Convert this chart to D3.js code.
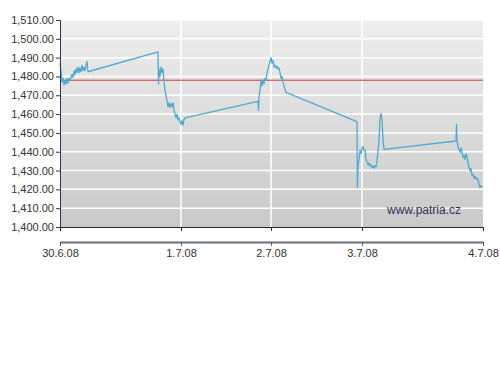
<!DOCTYPE html>
<html>
<head>
<meta charset="utf-8">
<script src="https://cdn.jsdelivr.net/npm/d3@7/dist/d3.min.js"></script>
<style>
  body { margin: 0; background: #ffffff; }
  text { font-family: "Liberation Sans", Arial, sans-serif; }
</style>
</head>
<body>
<script>
// day labels on the x axis, position in day units
var dayLabels = ['30.6.08', '1.7.08', '2.7.08', '3.7.08', '4.7.08']
var dayTicks = [0, 1, 2, 3, 4]

// y axis ticks
var yTicks = [1400, 1410, 1420, 1430, 1440, 1450, 1460, 1470, 1480, 1490, 1500, 1510]

// reference level (red line)
var refLevel = 1478

// intraday prices, time in day units
var times = [
  0.000, 0.008, 0.017, 0.025, 0.033, 0.041, 0.050, 0.058, 0.066, 0.074,
  0.083, 0.099, 0.107, 0.116, 0.124, 0.132, 0.140, 0.149, 0.157, 0.165,
  0.174, 0.182, 0.190, 0.198, 0.207, 0.215, 0.223, 0.231,
  0.810, 0.814, 0.818, 0.826, 0.835, 0.843, 0.851, 0.860, 0.868, 0.876,
  0.884, 0.893, 0.901, 0.909, 0.917, 0.926, 0.934, 0.942, 0.950, 0.959,
  0.967, 0.975, 0.983, 0.992, 1.000, 1.011, 1.022, 1.033, 1.044,
  1.856, 1.861, 1.867, 1.878, 1.889, 1.900, 1.911, 1.922, 1.933, 1.944,
  1.956, 1.967, 1.978, 1.989, 2.000, 2.011, 2.022, 2.033, 2.044, 2.055,
  2.066, 2.077, 2.088, 2.099, 2.110, 2.121, 2.132, 2.143, 2.154, 2.165,
  2.945, 2.949, 2.956, 2.967, 2.978, 2.989, 3.000, 3.008, 3.017, 3.025,
  3.033, 3.041, 3.050, 3.058, 3.066, 3.074, 3.083, 3.091, 3.099, 3.107,
  3.116, 3.124, 3.132, 3.140, 3.149, 3.157, 3.165, 3.174, 3.182,
  3.777, 3.781, 3.785, 3.793, 3.802, 3.810, 3.818, 3.826, 3.835, 3.843,
  3.851, 3.860, 3.868, 3.876, 3.884, 3.893, 3.901, 3.909, 3.917, 3.926,
  3.934, 3.942, 3.950, 3.959, 3.967, 3.975, 3.983, 3.992
]
var prices = [
  1487, 1483, 1477, 1479, 1475.5, 1478, 1476, 1479, 1476.5, 1479,
  1478, 1481, 1479.5, 1483, 1481, 1484, 1482, 1485, 1482, 1484.5,
  1482.5, 1486, 1483, 1485, 1483, 1486, 1488, 1482.5,
  1493, 1476, 1484, 1480, 1485, 1482, 1484, 1477, 1472.5, 1470,
  1467, 1464, 1466, 1463.5, 1465.5, 1464, 1466, 1462, 1460, 1458,
  1460, 1457, 1458, 1456, 1454.5, 1456.5, 1454, 1457, 1458,
  1466.7, 1462, 1469, 1473, 1477.5, 1475, 1478, 1476, 1479, 1478,
  1482, 1484, 1486, 1488, 1490, 1487, 1488.5, 1485, 1486, 1484.5,
  1485.5, 1484, 1484.5, 1482, 1479, 1480, 1477, 1475, 1473, 1471.5,
  1456, 1421, 1431.7, 1436, 1440.7, 1439, 1441.8, 1442.8, 1440.7, 1441,
  1436, 1434.4, 1433, 1434, 1432.3, 1433, 1431.7, 1432.5, 1431.2, 1432.5,
  1432, 1435.4, 1440, 1446, 1457.7, 1460.3, 1456.6, 1446, 1441.3,
  1445.7, 1454.5, 1446, 1443, 1441, 1439.7, 1442, 1440, 1437, 1438,
  1436, 1439, 1437, 1434.4, 1432, 1430, 1431, 1427.5, 1428, 1426,
  1427, 1425.5, 1426, 1424.9, 1423, 1421, 1422, 1421
]

var svg_width = 500
var svg_height = 375
var plot = {left: 60, right: 483, top: 20, bottom: 227}

var svg = d3.select("body")
  .append("svg")
  .attr("width", svg_width)
  .attr("height", svg_height)

// x axis is not evenly spaced between the days
var x_scaling = d3.scaleLinear()
  .domain(dayTicks)
  .range([plot.left, 181, 271, 362, plot.right])

var y_scaling = d3.scaleLinear()
  .domain([1400, 1510])
  .range([plot.bottom, plot.top])

// background gradient of the plot area
var grad = svg.append("defs")
  .append("linearGradient")
  .attr("id", "bg")
  .attr("x1", 0).attr("y1", 0)
  .attr("x2", 0).attr("y2", 1)
grad.append("stop").attr("offset", "0%").attr("stop-color", "#eeeeee")
grad.append("stop").attr("offset", "100%").attr("stop-color", "#c9c9c9")

svg.append("rect")
  .attr("x", plot.left)
  .attr("y", plot.top)
  .attr("width", plot.right - plot.left)
  .attr("height", plot.bottom - plot.top)
  .attr("fill", "url(#bg)")

// white gridlines
svg.append("g")
  .selectAll("line")
  .data(yTicks.slice(1))
  .enter()
  .append("line")
  .attr("x1", plot.left)
  .attr("x2", plot.right)
  .attr("y1", function(d) { return y_scaling(d) })
  .attr("y2", function(d) { return y_scaling(d) })
  .attr("stroke", "#ffffff")
  .attr("stroke-width", 1.5)

svg.append("g")
  .selectAll("line")
  .data(dayTicks.slice(1, 4))
  .enter()
  .append("line")
  .attr("x1", function(d) { return x_scaling(d) })
  .attr("x2", function(d) { return x_scaling(d) })
  .attr("y1", plot.top)
  .attr("y2", plot.bottom)
  .attr("stroke", "#ffffff")
  .attr("stroke-width", 1.5)

// watermark
svg.append("text")
  .attr("x", 424)
  .attr("y", 214)
  .attr("text-anchor", "middle")
  .style("font-size", "12px")
  .attr("fill", "#2e3350")
  .text("www.patria.cz")

// red reference line
svg.append("line")
  .attr("x1", plot.left)
  .attr("x2", plot.right)
  .attr("y1", y_scaling(refLevel))
  .attr("y2", y_scaling(refLevel))
  .attr("stroke", "#c23b3b")
  .attr("stroke-width", 1)

// price line
var points = times.map(function(t, i) { return [t, prices[i]] })
var line = d3.line()
  .x(function(d) { return x_scaling(d[0]) })
  .y(function(d) { return y_scaling(d[1]) })

svg.append("path")
  .datum(points)
  .attr("d", line)
  .attr("fill", "none")
  .attr("stroke", "#52a9cf")
  .attr("stroke-width", 1.3)
  .attr("stroke-linejoin", "round")

// y axis
var y_axis = d3.axisLeft(y_scaling)
  .tickValues(yTicks)
  .tickFormat(d3.format(",.2f"))
  .tickSize(4)
  .tickPadding(2)

var yg = svg.append("g")
  .attr("transform", "translate(" + plot.left + ",0)")
  .call(y_axis)
yg.select(".domain").attr("stroke", "#2b3a55")
yg.selectAll(".tick line").attr("stroke", "#2b3a55")
yg.selectAll("text")
  .style("font-size", "11px")
  .style("font-family", "'Liberation Sans', Arial, sans-serif")
  .attr("fill", "#333333")

// x axis at bottom of plot
var x_axis = d3.axisBottom(x_scaling)
  .tickValues(dayTicks)
  .tickFormat("")
  .tickSizeInner(4)
  .tickSizeOuter(0)

var xg = svg.append("g")
  .attr("transform", "translate(0," + plot.bottom + ")")
  .call(x_axis)
xg.selectAll(".domain, .tick line").attr("stroke", "#1f2a40")

// lower date bar with labels
var x_axis2 = d3.axisBottom(x_scaling)
  .tickValues(dayTicks)
  .tickFormat(function(d, i) { return dayLabels[i] })
  .tickSizeInner(4)
  .tickSizeOuter(0)
  .tickPadding(3)

var xg2 = svg.append("g")
  .attr("transform", "translate(0,242)")
  .call(x_axis2)
xg2.select(".domain").attr("stroke", "#6a6f78").attr("stroke-width", 2)
xg2.selectAll(".tick line").attr("stroke", "#555a63")
xg2.selectAll("text")
  .style("font-size", "11px")
  .style("font-family", "'Liberation Sans', Arial, sans-serif")
  .attr("fill", "#333333")
</script>
</body>
</html>
